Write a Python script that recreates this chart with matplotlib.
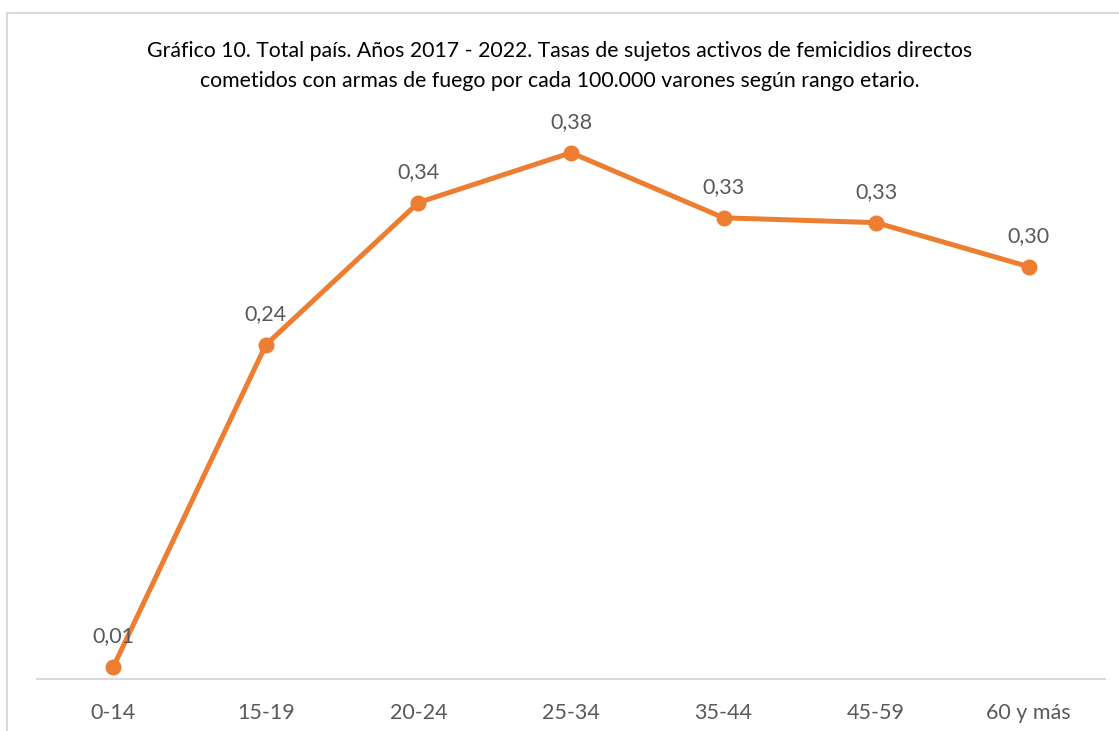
import matplotlib.pyplot as plt
from matplotlib.patches import Rectangle

# Datos: tasas por 100.000 varones según rango etario
categorias = ['0-14', '15-19', '20-24', '25-34', '35-44', '45-59', '60 y más']
tasas = [0.0087, 0.2413, 0.344, 0.380, 0.333, 0.3295, 0.2977]
etiquetas = ['0,01', '0,24', '0,34', '0,38', '0,33', '0,33', '0,30']

titulo = ('Gráfico 10. Total país. Años 2017 - 2022. Tasas de sujetos activos de femicidios directos\n'
          'cometidos con armas de fuego por cada 100.000 varones según rango etario.')

plt.rcParams['font.family'] = ['Lato', 'DejaVu Sans']

W, H = 1119, 731
fig = plt.figure(figsize=(W / 100, H / 100), dpi=100)
fig.patch.set_facecolor('white')

# marco del gráfico (sale por la derecha y abajo)
fig.patches.append(Rectangle((7 / W, -0.1), 1.2, 1 - 13 / H + 0.1,
                             transform=fig.transFigure, fill=False,
                             edgecolor='#d9d9d9', linewidth=1.5))

ax = fig.add_axes([37 / W, (H - 679) / H, (1105 - 37) / W, (679 - 125) / H])
x = range(len(categorias))
ax.plot(x, tasas, color='#ED7D31', linewidth=3.6, marker='o', markersize=10.5,
        solid_capstyle='round', zorder=3)

for xi, v, lab in zip(x, tasas, etiquetas):
    ax.annotate(lab, (xi, v), xytext=(0, 15), textcoords='offset points',
                ha='center', va='bottom', fontsize=15.5, color='#595959')

ax.set_xlim(-0.5, len(categorias) - 0.5)
ax.set_ylim(0, 0.40)
ax.set_xticks(list(x))
ax.set_xticklabels(categorias, fontsize=15.5, color='#595959')
ax.tick_params(axis='x', length=0, pad=17)
ax.set_yticks([])
for s in ['top', 'right', 'left']:
    ax.spines[s].set_visible(False)
ax.spines['bottom'].set_color('#d9d9d9')
ax.spines['bottom'].set_linewidth(1.5)

fig.text(0.5, 1 - 41 / H, titulo, ha='center', va='top', fontsize=15.3,
         color='black', linespacing=1.62)

fig.savefig('out.png', dpi=100)
